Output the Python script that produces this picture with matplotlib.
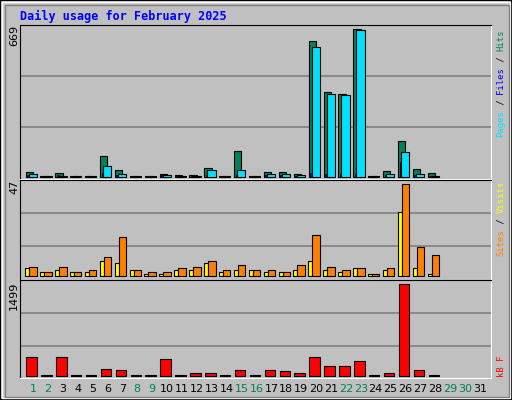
import matplotlib.pyplot as plt
import numpy as np
from matplotlib.patches import Rectangle

days = np.arange(1, 32)
hits = [20, 2, 15, 2, 2, 94, 30, 2, 2, 12, 8, 8, 39, 2, 116, 2, 21, 21, 14, 616, 384, 375, 669, 2, 26, 162, 35, 17]
files = [8, 2, 6, 2, 2, 17, 8, 2, 2, 6, 4, 4, 8, 2, 8, 2, 6, 6, 4, 17, 12, 12, 12, 2, 6, 67, 8, 4]
pages = [12, 2, 5, 2, 2, 48, 12, 2, 2, 6, 4, 4, 30, 2, 30, 2, 12, 12, 6, 589, 375, 369, 664, 2, 12, 112, 12, 4]
visits = [4, 2, 3, 2, 2, 8, 7, 3, 1, 1, 3, 3, 7, 2, 3, 3, 2, 2, 3, 8, 3, 2, 4, 1, 3, 33, 4, 1]
sites = [5, 2, 5, 2, 3, 10, 20, 3, 2, 2, 4, 5, 8, 3, 6, 3, 3, 2, 6, 21, 5, 3, 4, 1, 4, 47, 15, 11]
kbytes = [301, 10, 301, 10, 10, 104, 88, 10, 10, 268, 10, 38, 38, 10, 88, 10, 88, 71, 38, 301, 153, 153, 235, 10, 38, 1499, 88, 10]
weekend = [1, 2, 8, 9, 15, 16, 22, 23, 29, 30]

W, H = 512, 400
BG = "#C0C0C0"
fig = plt.figure(figsize=(W / 100, H / 100), dpi=100, facecolor=BG)
mono = "DejaVu Sans Mono"

# outer bevel frame
fig.patches.append(Rectangle((0, 0), 1, 1, transform=fig.transFigure, fill=False, ec="black", lw=1.5))
fig.patches.append(Rectangle((2 / W, 2 / H), 1 - 4 / W, 1 - 4 / H, transform=fig.transFigure, fill=False, ec="white", lw=1))
fig.patches.append(Rectangle((5 / W, 3 / H), 1 - 8 / W, 1 - 8 / H, transform=fig.transFigure, fill=False, ec="#808080", lw=1))

X0, X1 = 20, 491
xmin = 1 - 13 / 14.9
xmax = xmin + (X1 - X0) / 14.9


def panel(top, bot, zero_px, max_px, vmax):
    ax = fig.add_axes([X0 / W, 1 - bot / H, (X1 - X0) / W, (bot - top) / H])
    ax.set_facecolor(BG)
    scale = vmax / (zero_px - max_px)
    ax.set_ylim(-(bot - zero_px) * scale, vmax + (max_px - top) * scale)
    ax.set_xlim(xmin, xmax)
    ax.set_xticks([])
    ax.set_yticks([])
    for s in ["top", "left"]:
        ax.spines[s].set_color("black")
    for s in ["bottom", "right"]:
        ax.spines[s].set_color("white")
    return ax, scale


def gridlines(ax, zero_px, scale, pys):
    for py in pys:
        ax.axhline((zero_px - py) * scale, color="#808080", lw=1.2, zorder=0)


d = np.array(days[:len(hits)], dtype=float)

# top: hits / files / pages
ax1, s1 = panel(25, 179, 176.7, 29.3, 669)
gridlines(ax1, 176.7, s1, [76.3, 127.3])
ax1.bar(d - 0.5, hits, width=0.49, align="edge", color="#00805C", ec="black", lw=0.8, zorder=2)
ax1.bar(d - 0.4, files, width=0.15, align="edge", color="#0000FF", ec="black", lw=0.5, zorder=3)
ax1.bar(d - 0.3, pages, width=0.55, align="edge", color="#00E0FF", ec="black", lw=0.8, zorder=4)

# middle: visits / sites
ax2, s2 = panel(180, 280, 276.3, 184.3, 47)
gridlines(ax2, 276.3, s2, [213.3, 246.3])
ax2.bar(d - 0.52, visits, width=0.27, align="edge", color="#FFFF00", ec="black", lw=0.8, zorder=2)
ax2.bar(d - 0.25, sites, width=0.5, align="edge", color="#FF8000", ec="black", lw=0.8, zorder=3)

# bottom: kB
ax3, s3 = panel(280, 378, 375.7, 284.3, 1499)
gridlines(ax3, 375.7, s3, [313.3, 346.3])
ax3.bar(d - 0.45, kbytes, width=0.7, align="edge", color="#FF0000", ec="black", lw=0.8, zorder=2)

# day labels
for day in days:
    px = 33 + 14.9 * (day - 1)
    fig.text(px / W, 1 - 389 / H, str(day), ha="center", va="center", fontsize=8,
             color="#00805C" if day in weekend else "black", family="DejaVu Sans")

# title and max labels
fig.text(20 / W, 1 - 16 / H, "Daily usage for February 2025", fontsize=8.5, fontweight="bold",
         color="#0000FF", family=mono, va="center")
for txt, py in [("669", 25), ("47", 180), ("1499", 282)]:
    fig.text(14 / W, 1 - py / H, txt, rotation=90, ha="center", va="top", fontsize=8, family="DejaVu Sans")


def side_label(parts, py_bottom):
    # draw each coloured piece as its own rotated text, stacked upward
    py = py_bottom
    for txt, col in parts:
        fig.text(501 / W, 1 - py / H, txt, rotation=90, ha="center", va="bottom",
                 fontsize=6.4, color=col, family=mono)
        py -= len(txt) * 5.35


side_label([("Pages", "#00E0FF"), (" / ", "black"), ("Files", "#0000FF"), (" / ", "black"), ("Hits", "#00805C")], 137)
side_label([("Sites", "#FF8000"), (" / ", "black"), ("Visits", "#FFFF00")], 256)
side_label([("kB F", "#FF0000")], 377)

fig.savefig("out.png", dpi=100, facecolor=BG)
